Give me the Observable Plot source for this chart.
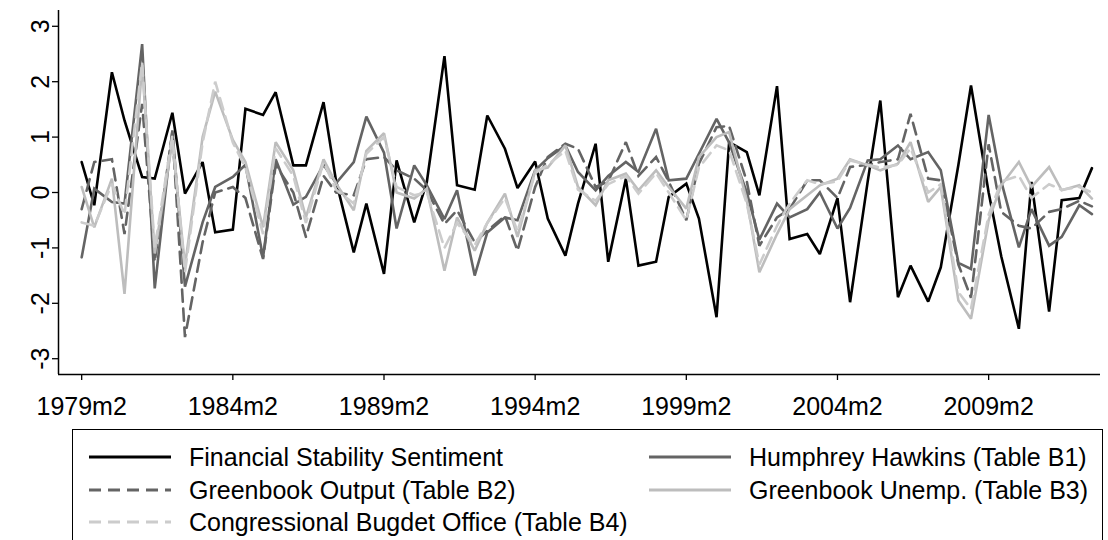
<!DOCTYPE html>
<html><head><meta charset="utf-8">
<script src="https://cdn.jsdelivr.net/npm/d3@7"></script>
<script src="https://cdn.jsdelivr.net/npm/@observablehq/plot@0.6"></script>
<style>
body{margin:0;background:#fff;font-family:"Liberation Sans",Arial,sans-serif;}
#wrap{position:relative;width:1108px;height:540px;overflow:hidden;background:#fff}
#legend{position:absolute;left:72px;top:429px;width:1031px;height:125px;border:1.5px solid #000;box-sizing:border-box}
.item{position:absolute;display:flex;align-items:center;font-size:25px;height:30px;color:#000;white-space:nowrap}
.item svg{margin-right:18px}
</style></head>
<body><div id="wrap"><div id="chart"></div><div id="legend"></div></div>
<script>
const periods = ["1979m2","1979m7","1980m2","1980m7","1981m2","1981m7","1982m2","1982m7","1983m2","1983m7",
"1984m2","1984m7","1985m2","1985m7","1986m2","1986m7","1987m2","1987m7","1988m2","1988m7",
"1989m2","1989m7","1990m2","1990m7","1991m2","1991m7","1992m2","1992m7","1993m2","1993m7",
"1994m2","1994m7","1995m2","1995m7","1996m2","1996m7","1997m2","1997m7","1998m2","1998m7",
"1999m2","1999m7","2000m2","2000m7","2001m2","2001m7","2002m2","2002m7","2003m2","2003m7",
"2004m2","2004m7","2005m2","2005m7","2006m2","2006m7","2007m2","2007m7","2008m2","2008m7",
"2009m2","2009m7","2010m2","2010m7","2011m2","2011m7","2012m2","2012m7"];

const xTickLabels = ["1979m2","1984m2","1989m2","1994m2","1999m2","2004m2","2009m2"];
const yTicks = [-3,-2,-1,0,1,2,3];

const seriesNames = ["Financial Stability Sentiment","Humphrey Hawkins (Table B1)","Greenbook Output (Table B2)","Greenbook Unemp. (Table B3)","Congressional Bugdet Office (Table B4)"];
const seriesColors = ["#000000","#646464","#646464","#bdbdbd","#cccccc"];
const seriesDash = ["none","none","12,7","none","12,7"];

const finStab = [0.55,-0.23,2.17,1.3,0.28,0.25,1.44,-0.02,0.55,-0.72,
-0.67,1.51,1.40,1.81,0.49,0.49,1.63,0.2,-1.08,-0.20,
-1.47,0.58,-0.54,0.19,2.46,0.13,0.05,1.39,0.79,0.08,
0.56,-0.47,-1.14,-0.2,0.88,-1.25,0.25,-1.32,-1.25,-0.08,
0.16,-0.47,-2.25,0.91,0.73,-0.05,1.92,-0.84,-0.75,-1.11,
-0.10,-1.98,0.2,1.66,-1.89,-1.32,-1.97,-1.35,0.5,1.93,
0.0,-1.15,-2.46,0.19,-2.15,-0.14,-0.10,0.44];

const humphrey = [-1.17,0.07,-0.17,-0.2,2.68,-1.73,1.12,-1.7,-0.54,0.10,
0.28,0.50,-1.17,0.60,-0.22,-0.08,0.50,0.17,0.55,1.37,
0.72,-0.65,0.49,0.13,-0.48,0.04,-1.5,-0.72,-0.45,-0.5,
0.4,0.62,0.85,0.37,0.04,0.3,0.55,0.37,1.15,0.22,
0.25,0.7,1.33,0.9,0.0,-0.85,-0.2,-0.45,-0.3,0.0,
-0.65,-0.28,0.58,0.6,0.85,0.6,0.73,0.4,-1.27,-1.38,
1.4,0.2,-0.99,-0.3,-0.96,-0.8,-0.23,-0.39];

const gbOutput = [-0.3,0.55,0.6,-0.75,1.6,-1.25,1.1,-2.61,-0.9,0.0,
0.1,-0.1,-1.2,0.5,0.0,-0.8,0.3,0.0,-0.05,0.6,
0.64,0.4,0.25,0.04,-0.57,-0.32,-0.9,-0.69,-0.42,-1.05,
0.1,0.64,0.88,0.79,0.1,0.2,0.91,0.3,0.64,0.2,
-0.5,0.52,1.18,1.2,0.2,-0.96,-0.45,-0.3,0.22,0.22,
-0.1,0.46,0.5,0.55,0.6,1.42,0.25,0.22,-1.3,-1.9,
0.87,-0.35,-0.6,-0.65,-0.35,-0.3,-0.15,-0.25];

const gbUnemp = [0.1,-0.63,0.25,-1.83,2.3,-1.1,0.92,-1.32,1.0,1.82,
0.95,0.55,-0.63,0.91,0.4,-0.45,0.6,0.16,-0.32,0.75,
1.07,0.0,-0.11,0.07,-1.41,-0.45,-1.05,-0.55,-0.02,-0.8,
0.4,0.45,0.85,0.1,-0.23,0.22,0.34,0.04,0.4,0.1,
-0.29,0.64,1.0,1.09,-0.14,-1.44,-0.75,-0.3,-0.05,0.13,
0.25,0.6,0.49,0.4,0.52,0.91,-0.17,0.1,-1.95,-2.28,
-0.5,0.13,0.55,0.1,0.46,0.04,0.13,-0.11];

const cbo = [-0.54,-0.6,0.16,-0.4,2.35,-1.0,1.03,-1.44,0.9,2.0,
0.9,0.45,-0.75,0.8,0.3,-0.55,0.55,0.05,-0.2,0.7,
1.0,0.1,-0.05,0.0,-1.0,-0.55,-0.95,-0.55,-0.1,-0.7,
0.35,0.5,0.75,0.05,-0.15,0.15,0.3,-0.02,0.35,0.0,
-0.5,0.45,0.85,0.76,-0.2,-1.3,-0.6,-0.2,0.22,0.15,
0.2,0.58,0.5,0.45,0.5,0.8,0.0,0.15,-1.8,-2.1,
-0.4,0.2,0.3,-0.1,0.15,0.05,0.1,0.0];

const seriesValues = [finStab, humphrey, gbOutput, gbUnemp, cbo];

// months since 1979m2
const toMonth = p => { const [y,m] = p.split("m").map(Number); return (y-1979)*12 + (m-2); };
const xDomain = [-9.2, 404.4];
const yDomain = [-3.285, 3.285];

const rows = [];
seriesValues.forEach((vals, s) => vals.forEach((v, i) => rows.push({s, t: toMonth(periods[i]), v})));

const lineMarks = seriesNames.map((name, s) =>
  Plot.line(rows.filter(d => d.s === s), {x: "t", y: "v", stroke: seriesColors[s], strokeWidth: 2.6,
    strokeDasharray: seriesDash[s] === "none" ? null : seriesDash[s], strokeLinejoin: "miter", strokeMiterlimit: 2})
);

const xTickPos = xTickLabels.map(toMonth);
const chart = Plot.plot({
  width: 1108, height: 425,
  marginLeft: 58, marginRight: 8, marginTop: 10, marginBottom: 51,
  style: {fontFamily: '"Liberation Sans", Arial, sans-serif', fontSize: "25px", color: "#000", background: "#fff"},
  x: {type: "linear", domain: xDomain},
  y: {domain: yDomain},
  marks: [
    Plot.axisX({ticks: xTickPos, tickFormat: t => xTickLabels[xTickPos.indexOf(t)], tickSize: 6, tickPadding: 17, fontSize: 25, label: null, stroke: "#000", strokeWidth: 1.3}),
    Plot.axisY({ticks: yTicks, tickSize: 6, tickPadding: 4, fontSize: 25, tickRotate: -90, label: null, stroke: "#000", strokeWidth: 1.3, tickFormat: d => d < 0 ? "-" + Math.abs(d) : String(d)}),
    ...lineMarks,
    Plot.ruleX([xDomain[0]], {stroke: "#000", strokeWidth: 1.5}),
    Plot.ruleY([yDomain[0]], {stroke: "#000", strokeWidth: 1.5})
  ]
});
document.getElementById("chart").appendChild(chart);

// legend
const legend = document.getElementById("legend");
const pos = [[16,27],[576,27],[16,60],[576,60],[16,92]];
[0,1,2,3,4].forEach((s, k) => {
  const it = document.createElement("div");
  it.className = "item";
  it.style.left = pos[k][0] + "px";
  it.style.top = (pos[k][1] - 15) + "px";
  const ns = "http://www.w3.org/2000/svg";
  const svg = document.createElementNS(ns, "svg");
  svg.setAttribute("width", 82); svg.setAttribute("height", 8);
  const ln = document.createElementNS(ns, "line");
  ln.setAttribute("x1", 0); ln.setAttribute("x2", 82); ln.setAttribute("y1", 4); ln.setAttribute("y2", 4);
  ln.setAttribute("stroke", seriesColors[s]); ln.setAttribute("stroke-width", 2.8);
  if (seriesDash[s] !== "none") ln.setAttribute("stroke-dasharray", seriesDash[s]);
  svg.appendChild(ln);
  it.appendChild(svg);
  const sp = document.createElement("span");
  sp.textContent = seriesNames[s];
  it.appendChild(sp);
  legend.appendChild(it);
});
</script>
</body></html>
